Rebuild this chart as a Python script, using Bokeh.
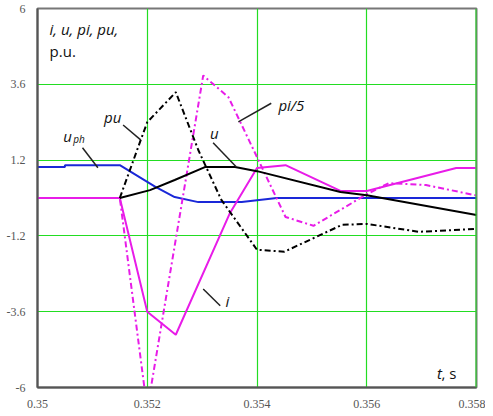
from bokeh.plotting import figure
from bokeh.embed import file_html
from bokeh.resources import INLINE
from bokeh.models import FixedTicker, CustomJSTickFormatter, Range1d, Span, ColumnDataSource
from bokeh.core.properties import value

# ---- data ----
t_i = [0.35, 0.3515, 0.352, 0.35252, 0.3535, 0.354, 0.35452, 0.35553, 0.356, 0.35763, 0.358]
v_i = [0, 0, -3.6, -4.33, -0.5, 0.95, 1.04, 0.22, 0.22, 0.95, 0.95]

t_pi5 = [0.35, 0.3515, 0.352, 0.35302, 0.35348, 0.35452, 0.35503, 0.356, 0.3564, 0.35708, 0.358]
v_pi5 = [0, 0, -6.7, 3.88, 3.19, -0.6, -0.88, 0.12, 0.47, 0.41, 0.08]

t_pu = [0.3515, 0.35188, 0.352, 0.35252, 0.35293, 0.35335, 0.354, 0.3545, 0.35555, 0.356, 0.35695, 0.358]
v_pu = [0, 1.83, 2.4, 3.35, 1.52, -0.06, -1.64, -1.7, -0.85, -0.82, -1.07, -0.98]

t_u = [0.3515, 0.35205, 0.3525, 0.35305, 0.3536, 0.354, 0.35552, 0.356, 0.358]
v_u = [0, 0.25, 0.57, 0.98, 0.98, 0.85, 0.19, 0.09, -0.54]

t_uph = [0.35, 0.3505, 0.3505, 0.3515, 0.35215, 0.3525, 0.35293, 0.35372, 0.35436, 0.358]
v_uph = [0.98, 0.98, 1.04, 1.04, 0.35, 0.03, -0.13, -0.13, 0.0, 0.0]

y_ticks = [-6, -3.6, -1.2, 1.2, 3.6, 6]
x_ticks = [0.35, 0.352, 0.354, 0.356, 0.358]

GREEN = "#22dd22"
MAG = "#e81ce8"
BLUE = "#1a28d8"
DASHDOT = "6 3 2 3"

p = figure(width=485, height=408, output_backend="svg", toolbar_location=None,
           x_range=Range1d(0.35, 0.358), y_range=Range1d(-6, 6),
           min_border_left=37, min_border_right=9, min_border_top=8, min_border_bottom=21,
           frame_width=439, frame_height=379)
p.background_fill_color = "white"
p.border_fill_color = "white"
p.outline_line_color = "#777777"
p.outline_line_width = 2

for ax, ticks, dec in ((p.xaxis[0], x_ticks, 1000), (p.yaxis[0], y_ticks, 10)):
    ax.ticker = FixedTicker(ticks=ticks)
    ax.formatter = CustomJSTickFormatter(code="return String(Math.round(tick*%d)/%d);" % (dec, dec))
    ax.major_tick_line_color = None
    ax.minor_tick_line_color = None
    ax.axis_line_color = "#555555"
    ax.axis_line_width = 2
    ax.major_label_text_font = "Liberation Serif"
    ax.major_label_text_font_size = "12px"
    ax.major_label_text_color = "#555555"
    ax.major_label_standoff = 6

p.xgrid.grid_line_color = GREEN
p.ygrid.grid_line_color = GREEN
p.xgrid.grid_line_width = 1.2
p.ygrid.grid_line_width = 1.2
p.add_layout(Span(location=0.358, dimension="height", line_color=GREEN, line_width=2))

p.line(t_uph, v_uph, line_color=BLUE, line_width=2)
p.line(t_i, v_i, line_color=MAG, line_width=2)
p.line(t_pi5, v_pi5, line_color=MAG, line_width=2, line_dash=DASHDOT)
p.line(t_u, v_u, line_color="black", line_width=2)
p.line(t_pu, v_pu, line_color="black", line_width=2, line_dash=DASHDOT)

# leader lines
lead = ColumnDataSource(dict(
    x0=[0.35156, 0.35082, 0.3532, 0.35426, 0.35302],
    y0=[2.31, 1.59, 1.75, 3.0, -2.88],
    x1=[0.35188, 0.3511, 0.35362, 0.35366, 0.35333],
    y1=[1.84, 0.96, 0.99, 2.41, -3.41]))
p.segment("x0", "y0", "x1", "y1", source=lead, line_color="#222222", line_width=1.5)

F = value("Open Sans")
def lab(x, y, s, size="15px", style="italic", align="left"):
    p.text([x], [y], text=[s], text_font=F, text_font_size=size, text_font_style=style,
           text_align=align, text_baseline="middle", text_color="#111111")

lab(0.35022, 5.36, "i, u, pi, pu,")
lab(0.35022, 4.67, "p.u.", style="normal")
lab(0.35137, 2.56, "pu", align="center")
lab(0.35055, 1.97, "u", align="center")
lab(0.35065, 1.86, "ph", size="10px")
lab(0.35322, 2.06, "u", align="center")
lab(0.35439, 2.94, "pi/5")
lab(0.35346, -3.25, "i", align="center")
lab(0.35728, -5.55, "t", )
lab(0.35736, -5.55, ", s", style="normal")

open("out.html", "w").write(file_html(p, INLINE))
